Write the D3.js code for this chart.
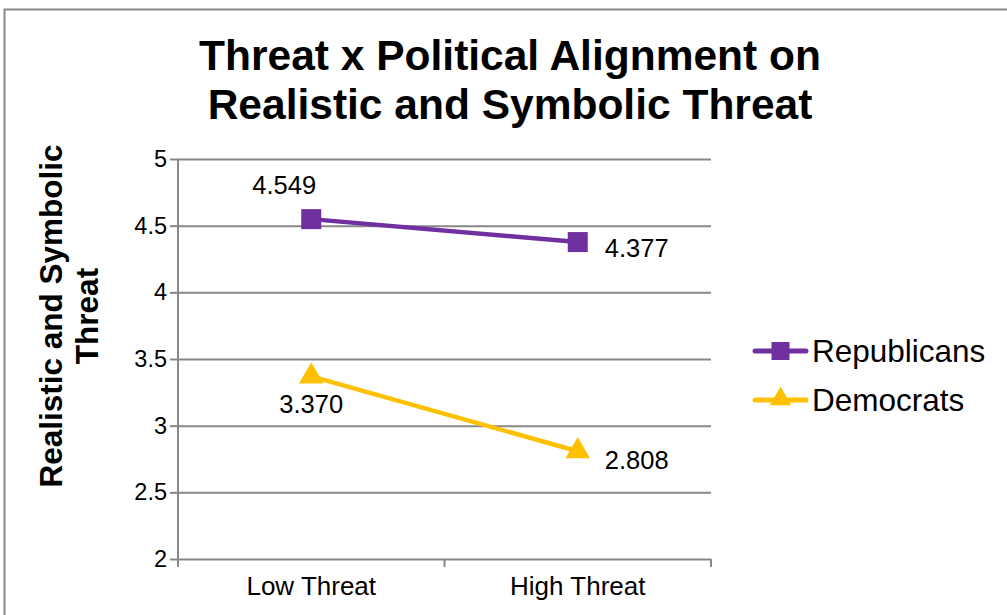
<!DOCTYPE html>
<html>
<head>
<meta charset="utf-8">
<script src="https://cdn.jsdelivr.net/npm/d3@7"></script>
<style>
  html, body { margin: 0; padding: 0; background: #fff; }
  svg { display: block; font-family: "Liberation Sans", Arial, sans-serif; }
</style>
</head>
<body>
<svg id="chart" width="1007" height="615"></svg>
<script>
// Chart data
const categories = ["Low Threat", "High Threat"];
const republicans = [4.549, 4.377];
const democrats = [3.370, 2.808];
const yTicks = [2, 2.5, 3, 3.5, 4, 4.5, 5];
const seriesNames = ["Republicans", "Democrats"];
const titleLines = ["Threat x Political Alignment on", "Realistic and Symbolic Threat"];
const yTitleLines = ["Realistic and Symbolic", "Threat"];

const svg = d3.select("#chart");
const W = 1007, H = 615;

svg.append("rect").attr("width", W).attr("height", H).attr("fill", "#fff");

// Outer chart frame
svg.append("rect")
  .attr("x", 4.5).attr("y", 9.5)
  .attr("width", W + 20).attr("height", H + 20)
  .attr("fill", "none").attr("stroke", "#888").attr("stroke-width", 2);

const plot = { left: 178, right: 711, top: 159, bottom: 559 };

const x = d3.scalePoint().domain(categories)
  .range([plot.left, plot.right]).padding(0.5);
const xBand = d3.scaleBand().domain(categories).range([plot.left, plot.right]);
const y = d3.scaleLinear().domain([2, 5]).range([plot.bottom, plot.top]);

const grid = "#878787";

// Horizontal gridlines with left tick marks
const yAxis = d3.axisLeft(y).tickValues(yTicks)
  .tickFormat(d3.format("~g"))
  .tickSizeInner(-(plot.right - plot.left)).tickSizeOuter(0).tickPadding(11);
const gy = svg.append("g").attr("transform", `translate(${plot.left},0)`).call(yAxis);
gy.select(".domain").remove();
gy.selectAll(".tick line").attr("stroke", grid).attr("stroke-width", 2);
gy.selectAll(".tick").append("line")
  .attr("x1", -8).attr("x2", 0).attr("stroke", grid).attr("stroke-width", 2);
gy.selectAll(".tick text").attr("font-size", 23.5).attr("fill", "#000")
  .attr("font-family", "Liberation Sans, Arial, sans-serif");

// Vertical axis line
svg.append("line")
  .attr("x1", plot.left).attr("x2", plot.left)
  .attr("y1", plot.top).attr("y2", plot.bottom + 8)
  .attr("stroke", grid).attr("stroke-width", 2);

// Category axis with boundary ticks
const xEdges = categories.map(c => xBand(c)).concat([plot.right]);
svg.append("g").selectAll("line").data(xEdges).join("line")
  .attr("x1", d => d).attr("x2", d => d)
  .attr("y1", plot.bottom).attr("y2", plot.bottom + 8)
  .attr("stroke", grid).attr("stroke-width", 2);
svg.append("g").selectAll("text").data(categories).join("text")
  .attr("x", d => x(d)).attr("y", plot.bottom + 36)
  .attr("text-anchor", "middle").attr("font-size", 26).attr("fill", "#000")
  .text(d => d);

// Title
svg.append("g").selectAll("text").data(titleLines).join("text")
  .attr("x", 510).attr("y", (d, i) => 70 + i * 49)
  .attr("text-anchor", "middle").attr("font-size", 42.5).attr("font-weight", "bold")
  .attr("fill", "#000").text(d => d);

// Y-axis title
svg.append("g").attr("transform", "translate(0,316) rotate(-90)")
  .selectAll("text").data(yTitleLines).join("text")
  .attr("x", 0).attr("y", (d, i) => 62 + i * 36)
  .attr("text-anchor", "middle").attr("font-size", 31.5).attr("font-weight", "bold")
  .attr("fill", "#000").text(d => d);

const purple = "#7030A0", gold = "#FFC000";
const line = d3.line().x((d, i) => x(categories[i])).y(d => y(d));

// Series lines
svg.append("path").datum(republicans).attr("d", line)
  .attr("fill", "none").attr("stroke", purple).attr("stroke-width", 4.5);
svg.append("path").datum(democrats).attr("d", line)
  .attr("fill", "none").attr("stroke", gold).attr("stroke-width", 4.5);

// Markers
const sq = 20;
svg.append("g").selectAll("rect").data(republicans).join("rect")
  .attr("x", (d, i) => x(categories[i]) - sq / 2).attr("y", d => y(d) - sq / 2)
  .attr("width", sq).attr("height", sq).attr("fill", purple);
const tri = d3.symbol().type(d3.symbolTriangle).size(260);
svg.append("g").selectAll("path").data(democrats).join("path")
  .attr("transform", (d, i) => `translate(${x(categories[i])},${y(d)})`)
  .attr("d", tri).attr("fill", gold);

// Value labels
const fmt = d3.format(".3f");
const repLabelPos = [{ dx: -27, dy: -34, anchor: "middle" }, { dx: 27, dy: 6, anchor: "start" }];
const demLabelPos = [{ dx: 0, dy: 28, anchor: "middle" }, { dx: 27, dy: 9, anchor: "start" }];
function labels(values, pos) {
  svg.append("g").selectAll("text").data(values).join("text")
    .attr("x", (d, i) => x(categories[i]) + pos[i].dx)
    .attr("y", (d, i) => y(d) + pos[i].dy)
    .attr("dy", "0.35em")
    .attr("text-anchor", (d, i) => pos[i].anchor)
    .attr("font-size", 25.5).attr("fill", "#000")
    .text(d => fmt(d));
}
labels(republicans, repLabelPos);
labels(democrats, demLabelPos);

// Legend
const legend = svg.append("g").attr("transform", "translate(755,351)");
const items = legend.selectAll("g").data(seriesNames).join("g")
  .attr("transform", (d, i) => `translate(0,${i * 49})`);
items.append("line").attr("x1", 0).attr("x2", 51).attr("y1", 0).attr("y2", 0)
  .attr("stroke", (d, i) => i === 0 ? purple : gold).attr("stroke-width", 5)
  .attr("stroke-linecap", "round");
items.filter((d, i) => i === 0).append("rect")
  .attr("x", 25.5 - 9).attr("y", -9).attr("width", 18).attr("height", 18).attr("fill", purple);
items.filter((d, i) => i === 1).append("path")
  .attr("transform", "translate(25.5,-1)")
  .attr("d", d3.symbol().type(d3.symbolTriangle).size(200)).attr("fill", gold);
items.append("text").attr("x", 57).attr("y", 0).attr("dy", "0.35em")
  .attr("font-size", 31.5).attr("fill", "#000").text(d => d);
</script>
</body>
</html>
